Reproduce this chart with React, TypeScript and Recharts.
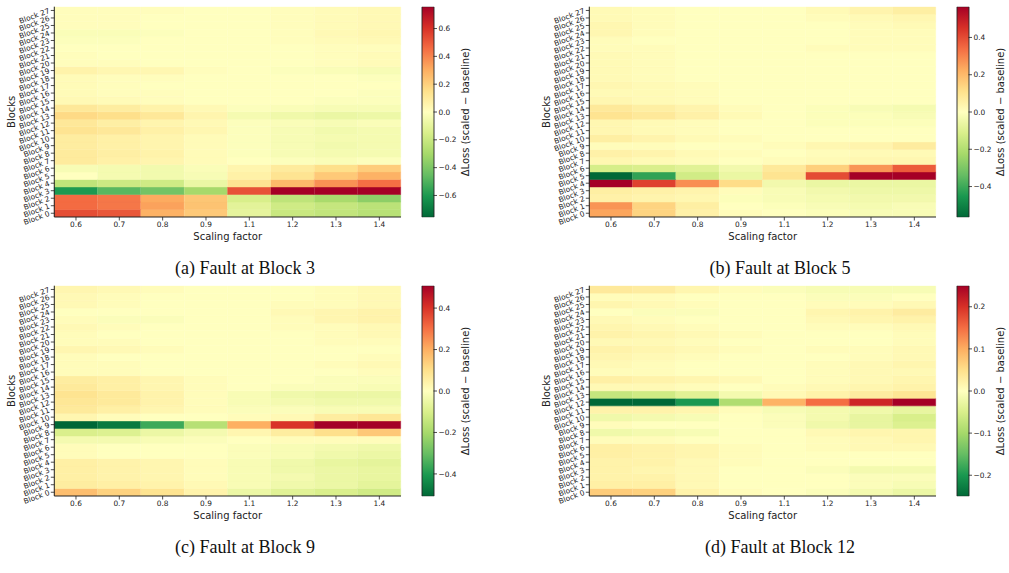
import React from 'react';
import { BarChart, Bar, XAxis, YAxis, Cell } from 'recharts';

const scalingFactors = ['0.6', '0.7', '0.8', '0.9', '1.1', '1.2', '1.3', '1.4'];
const blockLabels = Array.from({ length: 28 }, (_, i) => `Block ${i}`);

// rows: Block 0 .. Block 27, columns: scaling factors
const faultAt3 = [
  [0.53, 0.51, 0.29, 0.22, -0.10, -0.20, -0.22, -0.25],
  [0.46, 0.43, 0.33, 0.24, -0.11, -0.18, -0.21, -0.24],
  [0.46, 0.43, 0.31, 0.23, -0.15, -0.23, -0.29, -0.36],
  [-0.60, -0.48, -0.42, -0.30, 0.52, 0.757, 0.757, 0.757],
  [-0.23, -0.19, -0.18, -0.08, 0.13, 0.27, 0.37, 0.45],
  [0.0, -0.04, -0.05, -0.03, 0.07, 0.13, 0.22, 0.29],
  [-0.03, -0.04, -0.05, -0.02, 0.05, 0.10, 0.15, 0.21],
  [0.10, 0.07, 0.05, 0.02, 0.0, -0.01, -0.02, -0.01],
  [0.10, 0.08, 0.06, 0.02, -0.01, -0.03, -0.04, -0.04],
  [0.09, 0.07, 0.05, 0.02, -0.01, -0.03, -0.05, -0.04],
  [0.09, 0.07, 0.05, 0.02, -0.01, -0.03, -0.04, -0.04],
  [0.13, 0.11, 0.07, 0.04, -0.01, -0.03, -0.05, -0.04],
  [0.11, 0.08, 0.05, 0.03, -0.01, -0.02, -0.03, -0.02],
  [0.17, 0.15, 0.11, 0.05, -0.04, -0.06, -0.08, -0.07],
  [0.11, 0.09, 0.06, 0.03, -0.01, -0.02, -0.03, -0.03],
  [0.03, 0.02, 0.01, 0.0, 0.0, 0.0, -0.01, -0.01],
  [0.02, 0.01, 0.01, 0.0, 0.0, 0.0, 0.0, -0.01],
  [0.02, 0.01, 0.0, 0.0, 0.0, 0.0, 0.0, 0.0],
  [0.02, 0.01, 0.01, 0.0, 0.0, 0.0, 0.0, -0.01],
  [0.06, 0.04, 0.04, 0.01, 0.0, -0.01, -0.02, -0.03],
  [0.01, 0.01, 0.0, 0.0, 0.0, 0.0, 0.01, 0.02],
  [0.01, 0.0, 0.0, 0.0, 0.0, 0.0, 0.01, 0.02],
  [0.0, 0.0, 0.0, 0.0, 0.0, 0.0, 0.01, 0.01],
  [-0.01, -0.01, 0.0, 0.0, 0.0, 0.01, 0.02, 0.03],
  [-0.02, -0.02, -0.01, 0.0, 0.0, 0.01, 0.03, 0.04],
  [0.01, 0.01, 0.0, 0.0, 0.0, 0.01, 0.02, 0.03],
  [0.01, 0.01, 0.0, 0.0, 0.0, 0.01, 0.02, 0.03],
  [0.01, 0.01, 0.01, 0.0, 0.0, 0.01, 0.02, 0.03],
];

const faultAt5 = [
  [0.24, 0.14, 0.05, 0.01, 0.0, -0.01, -0.02, -0.02],
  [0.27, 0.14, 0.06, 0.0, -0.01, -0.02, -0.03, -0.02],
  [0.05, 0.04, 0.03, -0.01, -0.02, -0.03, -0.04, -0.04],
  [0.06, 0.05, 0.04, 0.01, -0.02, -0.04, -0.05, -0.05],
  [0.565, 0.42, 0.28, 0.12, -0.04, -0.06, -0.06, -0.06],
  [-0.565, -0.42, -0.13, -0.06, 0.10, 0.40, 0.565, 0.565],
  [-0.12, -0.11, -0.09, -0.04, 0.08, 0.15, 0.27, 0.37],
  [0.03, 0.02, 0.01, 0.0, 0.01, 0.02, 0.03, 0.03],
  [0.05, 0.04, 0.02, 0.01, 0.0, 0.01, 0.02, 0.02],
  [0.01, 0.01, 0.0, 0.0, 0.01, 0.03, 0.04, 0.07],
  [0.06, 0.04, 0.02, 0.01, 0.0, 0.0, 0.0, 0.0],
  [0.03, 0.02, 0.01, 0.0, 0.0, 0.0, 0.0, 0.0],
  [0.03, 0.02, 0.01, 0.0, 0.0, -0.01, -0.01, -0.01],
  [0.10, 0.08, 0.05, 0.02, 0.0, -0.01, -0.01, -0.02],
  [0.08, 0.06, 0.04, 0.01, 0.0, -0.01, -0.02, -0.03],
  [0.03, 0.02, 0.01, 0.0, 0.0, 0.0, 0.0, 0.0],
  [0.02, 0.02, 0.01, 0.0, 0.0, 0.0, 0.0, 0.0],
  [0.03, 0.02, 0.01, 0.0, 0.0, 0.0, 0.0, 0.0],
  [0.02, 0.01, 0.0, 0.0, 0.0, 0.0, 0.0, 0.0],
  [0.02, 0.01, 0.0, 0.0, 0.0, 0.0, 0.0, 0.0],
  [0.02, 0.01, 0.0, 0.0, 0.0, 0.0, 0.0, 0.0],
  [0.02, 0.01, 0.0, 0.0, 0.0, 0.0, 0.0, 0.0],
  [0.01, 0.01, 0.0, 0.0, 0.0, 0.01, 0.01, 0.01],
  [0.01, 0.0, 0.0, 0.0, 0.0, 0.0, 0.01, 0.01],
  [0.03, 0.01, 0.0, 0.0, 0.0, 0.0, 0.01, 0.01],
  [0.03, 0.01, 0.0, 0.0, 0.0, 0.0, 0.01, 0.02],
  [0.02, 0.01, 0.0, 0.0, 0.0, 0.01, 0.02, 0.03],
  [0.02, 0.01, 0.0, 0.0, 0.0, 0.02, 0.04, 0.06],
];

const faultAt9 = [
  [0.17, 0.13, 0.09, 0.04, -0.05, -0.08, -0.10, -0.12],
  [0.06, 0.05, 0.04, 0.02, -0.02, -0.04, -0.05, -0.07],
  [0.05, 0.04, 0.03, 0.01, -0.02, -0.03, -0.05, -0.06],
  [0.05, 0.04, 0.03, 0.01, -0.02, -0.04, -0.05, -0.06],
  [0.05, 0.04, 0.03, 0.01, -0.02, -0.04, -0.06, -0.07],
  [0.01, 0.0, 0.0, 0.0, -0.01, -0.02, -0.04, -0.05],
  [0.01, 0.0, 0.0, 0.0, -0.01, -0.02, -0.03, -0.04],
  [-0.03, -0.03, -0.02, -0.01, 0.0, 0.01, 0.01, 0.01],
  [-0.10, -0.09, -0.05, -0.03, 0.03, 0.06, 0.10, 0.15],
  [-0.51, -0.47, -0.36, -0.17, 0.20, 0.40, 0.51, 0.51],
  [0.03, 0.01, 0.0, 0.0, 0.01, 0.02, 0.06, 0.08],
  [0.07, 0.05, 0.03, 0.01, -0.01, -0.01, -0.02, -0.02],
  [0.08, 0.07, 0.04, 0.01, -0.02, -0.03, -0.04, -0.04],
  [0.09, 0.07, 0.04, 0.01, -0.02, -0.04, -0.05, -0.05],
  [0.07, 0.05, 0.03, 0.01, 0.0, -0.01, -0.01, -0.02],
  [0.06, 0.05, 0.03, 0.01, 0.0, 0.0, -0.01, -0.01],
  [0.01, 0.01, 0.0, 0.0, 0.0, 0.0, 0.0, 0.01],
  [0.01, 0.01, 0.0, 0.0, 0.0, 0.0, 0.01, 0.02],
  [0.01, 0.0, 0.0, 0.0, 0.0, 0.0, 0.0, 0.01],
  [0.03, 0.02, 0.01, 0.0, 0.0, 0.0, 0.0, 0.0],
  [0.01, 0.01, 0.0, 0.0, 0.0, 0.0, 0.01, 0.01],
  [0.01, 0.0, 0.0, 0.0, 0.0, 0.0, 0.01, 0.02],
  [0.02, 0.01, 0.0, 0.0, 0.0, 0.01, 0.01, 0.02],
  [0.01, -0.01, -0.01, 0.0, 0.0, 0.01, 0.03, 0.04],
  [0.0, 0.0, 0.0, 0.0, 0.0, 0.02, 0.03, 0.04],
  [0.02, 0.01, 0.0, 0.0, 0.0, 0.01, 0.01, 0.02],
  [0.02, 0.01, 0.0, 0.0, 0.0, 0.0, 0.01, 0.02],
  [0.03, 0.02, 0.01, 0.0, 0.0, 0.0, 0.01, 0.02],
];

const faultAt12 = [
  [0.07, 0.065, 0.02, 0.005, 0.0, -0.005, -0.015, -0.025],
  [0.025, 0.025, 0.01, 0.0, 0.0, 0.0, -0.005, -0.01],
  [0.02, 0.02, 0.01, 0.0, 0.0, 0.0, -0.005, -0.005],
  [0.02, 0.015, 0.01, 0.0, 0.0, -0.005, -0.015, -0.015],
  [0.02, 0.02, 0.01, 0.005, 0.0, 0.0, 0.0, 0.0],
  [0.025, 0.02, 0.015, 0.005, 0.0, 0.0, 0.0, 0.0],
  [0.025, 0.02, 0.015, 0.005, 0.0, 0.005, 0.01, 0.01],
  [0.005, 0.005, 0.0, 0.0, 0.0, 0.005, 0.01, 0.015],
  [-0.02, -0.015, -0.01, 0.0, 0.0, 0.01, 0.015, 0.015],
  [0.005, 0.0, 0.0, 0.0, -0.005, -0.02, -0.03, -0.045],
  [-0.02, -0.015, -0.01, 0.0, -0.005, -0.015, -0.03, -0.05],
  [0.02, 0.02, 0.015, 0.005, -0.01, -0.015, -0.02, -0.03],
  [-0.25, -0.25, -0.2, -0.09, 0.095, 0.15, 0.21, 0.25],
  [-0.07, -0.06, -0.04, -0.015, 0.01, 0.02, 0.03, 0.04],
  [0.01, 0.01, 0.005, 0.0, 0.005, 0.01, 0.015, 0.02],
  [0.025, 0.02, 0.015, 0.01, 0.0, 0.005, 0.01, 0.015],
  [0.005, 0.005, 0.0, 0.0, 0.0, 0.005, 0.01, 0.01],
  [0.01, 0.005, 0.0, 0.0, 0.0, 0.005, 0.01, 0.015],
  [0.015, 0.01, 0.005, 0.0, 0.0, 0.0, 0.005, 0.01],
  [0.02, 0.015, 0.01, 0.005, 0.0, 0.005, 0.005, 0.01],
  [0.01, 0.01, 0.005, 0.0, 0.0, 0.0, 0.0, 0.005],
  [0.02, 0.015, 0.01, 0.005, 0.0, 0.0, 0.0, 0.005],
  [0.015, 0.01, 0.005, 0.0, 0.0, 0.005, 0.005, 0.01],
  [0.01, 0.005, 0.0, 0.0, 0.0, 0.01, 0.015, 0.02],
  [0.0, -0.005, -0.005, 0.0, 0.0, 0.015, 0.02, 0.03],
  [0.015, 0.01, 0.005, 0.0, 0.0, 0.005, 0.005, 0.01],
  [0.005, 0.005, 0.0, 0.0, 0.0, -0.005, -0.005, 0.0],
  [0.035, 0.03, 0.015, 0.005, -0.005, -0.01, -0.01, -0.01],
];

const captions = ['(a) Fault at Block 3', '(b) Fault at Block 5', '(c) Fault at Block 9', '(d) Fault at Block 12'];
const colorLimits = [0.757, 0.565, 0.508, 0.25];
const colorTicks = [
  [-0.6, -0.4, -0.2, 0, 0.2, 0.4, 0.6],
  [-0.4, -0.2, 0, 0.2, 0.4],
  [-0.4, -0.2, 0, 0.2, 0.4],
  [-0.2, -0.1, 0, 0.1, 0.2],
];

const RDYLGN = ['#a50026', '#d73027', '#f46d43', '#fdae61', '#fee08b', '#ffffbf', '#d9ef8b', '#a6d96a', '#66bd63', '#1a9850', '#006837'];

function hexToRgb(h: string) {
  return [parseInt(h.slice(1, 3), 16), parseInt(h.slice(3, 5), 16), parseInt(h.slice(5, 7), 16)];
}
function colorFor(v: number, vmax: number) {
  let t = (v + vmax) / (2 * vmax);
  t = Math.max(0, Math.min(1, t));
  const pos = (1 - t) * 10;
  const i = Math.min(9, Math.floor(pos));
  const f = pos - i;
  const a = hexToRgb(RDYLGN[i]);
  const b = hexToRgb(RDYLGN[i + 1]);
  const c = a.map((x, k) => Math.round(x + (b[k] - x) * f));
  return `rgb(${c[0]},${c[1]},${c[2]})`;
}

const FONT = 'DejaVu Sans';
const INK = '#222';
const fmt = (v: number) => (v < 0 ? '\u2212' : '') + Math.abs(v).toFixed(1);

const YTick = (props: any) => {
  const { x, y, payload } = props;
  const idx = Math.round(payload.value - 0.5);
  return (
    <text x={x} y={y} dy="0.35em" textAnchor="end" fontSize={7.4} fontFamily={FONT} fill={INK}
      transform={`rotate(-20, ${x}, ${y})`}>
      {blockLabels[idx]}
    </text>
  );
};

const blockTicks = blockLabels.map((_, i) => i + 0.5);

function Heatmap({ values, vmax }: { values: number[][]; vmax: number }) {
  const data = scalingFactors.map((sf) => {
    const row: any = { sf };
    blockLabels.forEach((_, i) => (row[`b${i}`] = 1));
    return row;
  });
  return (
    <BarChart width={410} height={245} data={data} margin={{ top: 6.7, right: 9, left: 0, bottom: 0 }}
      barCategoryGap={0} barGap={0}>
      {blockLabels.map((_, i) => (
        <Bar key={i} dataKey={`b${i}`} stackId="s" isAnimationActive={false}>
          {scalingFactors.map((_, j) => {
            const c = colorFor(values[i][j], vmax);
            return <Cell key={j} fill={c} stroke={c} strokeWidth={0.5} />;
          })}
        </Bar>
      ))}
      <XAxis dataKey="sf" tickSize={3.5} tickMargin={1.5} height={28} interval={0}
        tick={{ fontSize: 7.4, fontFamily: FONT, fill: INK }}
        axisLine={{ stroke: INK, strokeWidth: 1 }} tickLine={{ stroke: INK, strokeWidth: 0.8 }}
        label={{
          content: (p: any) => (
            <text x={p.viewBox.x + p.viewBox.width / 2} y={p.viewBox.y + 22.5} textAnchor="middle"
              fontSize={10} fontFamily={FONT} fill={INK}>Scaling factor</text>
          ),
        }} />
      <YAxis type="number" domain={[0, 28]} ticks={blockTicks} interval={0} width={54.3}
        tickSize={3.5} tickMargin={1.5} tick={<YTick />} allowDataOverflow
        axisLine={{ stroke: INK, strokeWidth: 1 }} tickLine={{ stroke: INK, strokeWidth: 0.8 }}
        label={{
          content: (p: any) => {
            const cy = p.viewBox.y + p.viewBox.height / 2;
            return (
              <text x={12} y={cy} textAnchor="middle" dominantBaseline="central" fontSize={10}
                fontFamily={FONT} fill={INK} transform={`rotate(-90, 12, ${cy})`}>Blocks</text>
            );
          },
        }} />
      <XAxis xAxisId="top" orientation="top" dataKey="sf" tick={false} tickLine={false} height={0}
        axisLine={{ stroke: INK, strokeWidth: 1 }} />
      <YAxis yAxisId="right" orientation="right" type="number" domain={[0, 28]} tick={false}
        tickLine={false} width={0} axisLine={{ stroke: INK, strokeWidth: 1 }} />
    </BarChart>
  );
}

function ColorBar({ vmax, ticks, id }: { vmax: number; ticks: number[]; id: string }) {
  const data = [{ n: 'c', r: [-vmax, vmax] }];
  return (
    <BarChart width={100} height={245} data={data} margin={{ top: 6.7, right: 0, left: 22, bottom: 27.7 }}
      barCategoryGap={0} barGap={0}>
      <defs>
        <linearGradient id={id} x1="0" y1="0" x2="0" y2="1">
          {RDYLGN.map((c, k) => (
            <stop key={k} offset={`${k * 10}%`} stopColor={c} />
          ))}
        </linearGradient>
      </defs>
      <XAxis dataKey="n" hide />
      <Bar dataKey="r" fill={`url(#${id})`} stroke={INK} strokeWidth={0.9} isAnimationActive={false} />
      <YAxis orientation="right" type="number" domain={[-vmax, vmax]} ticks={ticks} interval={0}
        allowDataOverflow width={66.5} tickSize={3.5} tickMargin={1.5} tickFormatter={fmt}
        tick={{ fontSize: 7.4, fontFamily: FONT, fill: INK }} axisLine={false}
        tickLine={{ stroke: INK, strokeWidth: 0.8 }}
        label={{
          content: (p: any) => {
            const cx = p.viewBox.x + 32;
            const cy = p.viewBox.y + p.viewBox.height / 2;
            return (
              <text x={cx} y={cy} textAnchor="middle" dominantBaseline="central" fontSize={10}
                fontFamily={FONT} fill={INK} transform={`rotate(-90, ${cx}, ${cy})`}>
                {'\u0394Loss (scaled \u2212 baseline)'}
              </text>
            );
          },
        }} />
    </BarChart>
  );
}

const panels = [faultAt3, faultAt5, faultAt9, faultAt12];
const offsets = [
  [0, 0],
  [535, 0],
  [0, 279],
  [535, 279],
];

export default function App() {
  return (
    <div style={{ position: 'absolute', left: 0, top: 0, width: 1009, height: 573, background: '#fff' }}>
      {panels.map((vals, k) => {
        const [ox, oy] = offsets[k];
        return (
          <React.Fragment key={k}>
            <div style={{ position: 'absolute', left: ox, top: oy }}>
              <Heatmap values={vals} vmax={colorLimits[k]} />
            </div>
            <div style={{ position: 'absolute', left: ox + 400, top: oy }}>
              <ColorBar vmax={colorLimits[k]} ticks={colorTicks[k]} id={`cb${k}`} />
            </div>
            <div style={{
              position: 'absolute', left: ox + 245 - 200, top: oy + 274 - 15, width: 400,
              textAlign: 'center', fontFamily: 'Liberation Serif', fontSize: 18, lineHeight: '18px', color: '#111',
            }}>
              {captions[k]}
            </div>
          </React.Fragment>
        );
      })}
    </div>
  );
}
